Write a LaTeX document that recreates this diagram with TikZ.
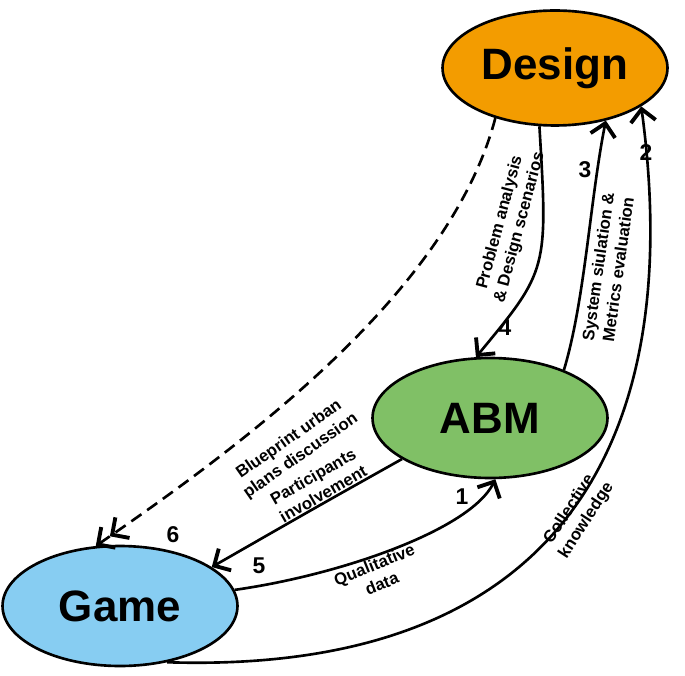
\documentclass[tikz,border=0pt]{standalone}
\usepackage{fontspec}
\setmainfont{Liberation Sans}
\usetikzlibrary{shapes.geometric,arrows.meta}
\definecolor{desc}{RGB}{243,156,0}
\definecolor{abmc}{RGB}{128,192,102}
\definecolor{gamec}{RGB}{135,205,242}
\begin{document}
\begin{tikzpicture}[x=0.02cm,y=0.02cm,
  blob/.style={ellipse,draw,line width=1.5pt,font=\fontsize{25}{28}\selectfont\bfseries},
  link/.style={line width=1.5pt,-{Straight Barb[length=2.5mm,width=5mm,line width=2.2pt]}},
  lab/.style={font=\fontsize{9.5}{11.5}\selectfont\bfseries,align=center},
  num/.style={font=\fontsize{13}{14}\selectfont\bfseries}]
\useasboundingbox (0,-675) rectangle (685,0);
\node[blob,fill=desc,minimum width=4.5cm,minimum height=2.3cm] (des) at (555,-68) {Design};
\node[blob,fill=abmc,minimum width=4.7cm,minimum height=2.4cm] (abm) at (490,-418) {ABM};
\node[blob,fill=gamec,minimum width=4.7cm,minimum height=2.4cm] (game) at (120,-606) {Game};
% connectors
\draw[link] (des.255) .. controls (548,-270) .. (abm.103);
\draw[link] (abm.33) .. controls (585,-300) and (590,-200) .. (des.314);
\draw[link] (game.310) .. controls (570,-675) and (685,-430) .. (des.336);
\draw[link] (game.8) .. controls (340,-575) and (470,-530) .. (abm.275);
\draw[link] (abm.205) .. controls (320,-505) .. (game.23);
\draw[line width=1.5pt,dash pattern=on 7pt off 4pt,-{Straight Barb[length=2.5mm,width=5mm,line width=2.2pt]Straight Barb[length=2.5mm,width=5mm,line width=2.2pt]}]
  (des.220) .. controls (450,-290) and (250,-440) .. (game.112);
% labels
\node[lab,rotate=75] (l4) at (510,-225) {Problem analysis\\\& Design scenarios};
\node[lab,rotate=82] (l3) at (608,-268) {System siulation \&\\Metrics evaluation};
\node[lab,rotate=35] (l6) at (295,-448) {Blueprint urban\\plans discussion};
\node[lab,rotate=30] (l5) at (318,-485) {Participants\\involvement};
\node[lab,rotate=22] (l1) at (378,-574) {Qualitative\\data};
\node[lab,rotate=57] (l2) at (578,-515) {Collective\\knowledge};
\node[num] (n4) at (505,-328) {4};
\node[num] (n3) at (585,-170) {3};
\node[num] (n2) at (646,-153) {2};
\node[num] (n1) at (462,-497) {1};
\node[num] (n5) at (259,-566) {5};
\node[num] (n6) at (173,-535) {6};
\end{tikzpicture}
\end{document}
